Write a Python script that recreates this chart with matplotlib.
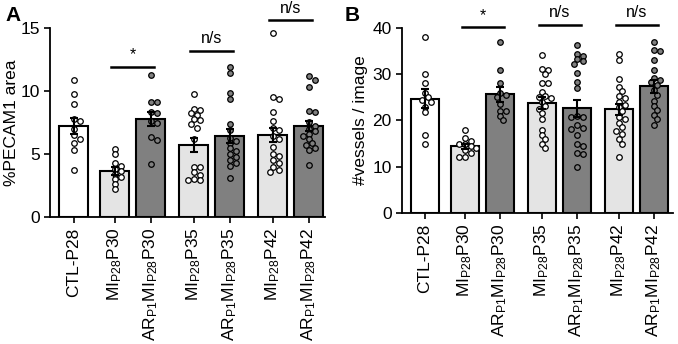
import numpy as np
import matplotlib
matplotlib.use("Agg")
import matplotlib.pyplot as plt

plt.rcParams['font.family'] = ['Liberation Sans', 'DejaVu Sans']
plt.rcParams['mathtext.fontset'] = 'custom'
plt.rcParams['mathtext.rm'] = 'Liberation Sans'
plt.rcParams['mathtext.default'] = 'regular'

# groups
labels = ["CTL-P28", "MI$_{P28}$P30", "AR$_{P1}$MI$_{P28}$P30",
          "MI$_{P28}$P35", "AR$_{P1}$MI$_{P28}$P35",
          "MI$_{P28}$P42", "AR$_{P1}$MI$_{P28}$P42"]
kinds = ["ctl", "mi", "ar", "mi", "ar", "mi", "ar"]

# panel A: %PECAM1 area
a_mean = [7.2, 3.65, 7.8, 5.7, 6.4, 6.5, 7.2]
a_sem = [0.65, 0.3, 0.55, 0.55, 0.55, 0.55, 0.4]
a_pts = [
    [10.9, 9.75, 9.0, 7.75, 7.6, 7.0, 6.5, 6.2, 5.9, 5.3, 3.7],
    [5.4, 5.0, 4.25, 4.05, 3.85, 3.65, 3.4, 3.2, 3.0, 2.6, 2.2],
    [11.25, 9.1, 9.1, 8.35, 8.25, 7.6, 7.45, 6.35, 6.1, 4.2],
    [9.75, 8.6, 8.5, 8.25, 8.1, 7.75, 7.7, 7.4, 7.1, 6.15, 4.0, 3.95, 3.6, 3.35, 3.0, 2.95, 2.9],
    [11.9, 11.45, 9.8, 9.35, 7.4, 6.9, 6.3, 6.0, 5.85, 5.45, 5.2, 5.0, 4.75, 4.5, 4.25, 4.05, 3.1],
    [14.6, 9.5, 9.35, 8.3, 7.6, 7.1, 6.9, 6.4, 6.2, 5.55, 5.0, 4.85, 4.5, 4.25, 3.95, 3.7, 3.6],
    [11.2, 10.9, 10.3, 8.4, 8.3, 7.5, 7.25, 7.0, 6.8, 6.6, 6.45, 6.2, 5.85, 5.7, 5.5, 5.3, 4.15],
]

# panel B: #vessels / image
b_mean = [24.7, 14.4, 25.6, 23.8, 22.6, 22.4, 27.4]
b_sem = [2.0, 0.6, 1.6, 1.3, 1.8, 1.2, 1.4]
b_pts = [
    [38.1, 30.1, 28.0, 26.0, 25.0, 24.4, 24.0, 23.0, 21.9, 16.9, 15.0],
    [18.0, 16.1, 15.6, 15.0, 14.8, 14.4, 14.0, 13.5, 12.9, 12.1, 12.0],
    [37.0, 30.8, 28.0, 26.0, 25.5, 25.0, 23.5, 22.1, 22.0, 21.0, 20.1],
    [34.2, 31.1, 31.0, 30.1, 28.1, 28.0, 26.2, 25.2, 25.0, 24.8, 24.0, 23.1, 22.5, 21.6,
     20.2, 18.0, 16.9, 16.0, 15.0, 14.1],
    [36.3, 34.3, 34.0, 33.2, 32.8, 32.2, 30.2, 28.2, 27.0, 21.0, 20.8, 20.7, 18.9, 18.4,
     18.1, 16.9, 15.0, 14.5, 13.0, 12.8, 10.0],
    [34.3, 33.1, 29.0, 27.3, 26.4, 25.2, 24.8, 24.0, 23.4, 22.9, 22.0, 20.8, 20.3, 19.5,
     18.6, 17.8, 17.0, 16.0, 15.0, 12.0],
    [37.0, 35.2, 35.1, 33.0, 31.0, 29.1, 28.8, 28.2, 27.7, 26.5, 25.5, 24.3, 23.2, 22.2,
     21.2, 20.2, 19.0],
]

# significance brackets: (left group, right group, text, height)
a_sig = [(1, 2, "*", 11.9), (3, 4, "n/s", 13.2), (5, 6, "n/s", 15.6)]
b_sig = [(1, 2, "*", 40.1), (3, 4, "n/s", 40.6), (5, 6, "n/s", 40.6)]

xpos = np.array([0, 1.15, 2.15, 3.35, 4.35, 5.55, 6.55])
bar_col = {"ctl": "white", "mi": "#e4e4e4", "ar": "#808080"}
dot_col = {"ctl": "white", "mi": "white", "ar": "#808080"}


def swarm(ax, x0, vals, diam=5.0, step=3.0, maxoff=11.0):
    # simple deterministic beeswarm in display pixels
    placed = []
    xs = []
    cands = [0.0]
    for i in range(1, 20):
        cands += [i * step, -i * step]
    for v in vals:
        px, py = ax.transData.transform((x0, v))
        for off in cands:
            off = max(-maxoff, min(maxoff, off))
            if all((px + off - qx) ** 2 + (py - qy) ** 2 >= diam ** 2 for qx, qy in placed):
                break
        placed.append((px + off, py))
        xs.append(ax.transData.inverted().transform((px + off, py))[0])
    return xs


def panel(ax, means, sems, pts, sig, ymax, yticks, ylabel, xlim, lpad):
    ax.set_xlim(*xlim)
    ax.set_ylim(0, ymax)
    ax.bar(xpos, means, width=0.8, color=[bar_col[k] for k in kinds],
           edgecolor="black", linewidth=1.5, zorder=1)
    for i, vals in enumerate(pts):
        xs = swarm(ax, xpos[i], vals)
        ax.plot(xs, vals, "o", ms=4, mfc=dot_col[kinds[i]], mec="black",
                mew=0.9, zorder=3, clip_on=False)
    ax.errorbar(xpos, means, yerr=sems, fmt="none", ecolor="black",
                elinewidth=1.5, capsize=3, capthick=1.5, zorder=4)
    for l, r, txt, y in sig:
        ax.plot([xpos[l] - 0.1, xpos[r] + 0.1], [y, y], color="black", lw=1.8,
                clip_on=False)
        ax.text((xpos[l] + xpos[r]) / 2, y + ymax * 0.025, txt, ha="center",
                va="bottom", fontsize=11.5)
    ax.set_yticks(yticks)
    ax.set_xticks(xpos)
    ax.set_xticklabels(labels, rotation=90, fontsize=12.5)
    ax.tick_params(axis="y", labelsize=12.5, width=1.2, length=4)
    ax.tick_params(axis="x", width=1.2, length=4)
    for s in ["top", "right"]:
        ax.spines[s].set_visible(False)
    for s in ["left", "bottom"]:
        ax.spines[s].set_linewidth(1.3)
    ax.set_ylabel(ylabel, fontsize=12.5, labelpad=lpad)


fig = plt.figure(figsize=(6.78, 3.44), dpi=100)
axA = fig.add_axes([0.074, 0.369, 0.405, 0.55])
axB = fig.add_axes([0.593, 0.381, 0.40, 0.538])

panel(axA, a_mean, a_sem, a_pts, a_sig, 15, [0, 5, 10, 15], "%PECAM1 area",
      (-0.65, 7.0), 1)
panel(axB, b_mean, b_sem, b_pts, b_sig, 40, [0, 10, 20, 30, 40], "#vessels / image",
      (-0.65, 7.1), 3)

fig.text(0.008, 0.955, "A", fontsize=15, fontweight="bold", va="center", ha="left")
fig.text(0.508, 0.955, "B", fontsize=15, fontweight="bold", va="center", ha="left")

fig.savefig("out.png", dpi=100)
